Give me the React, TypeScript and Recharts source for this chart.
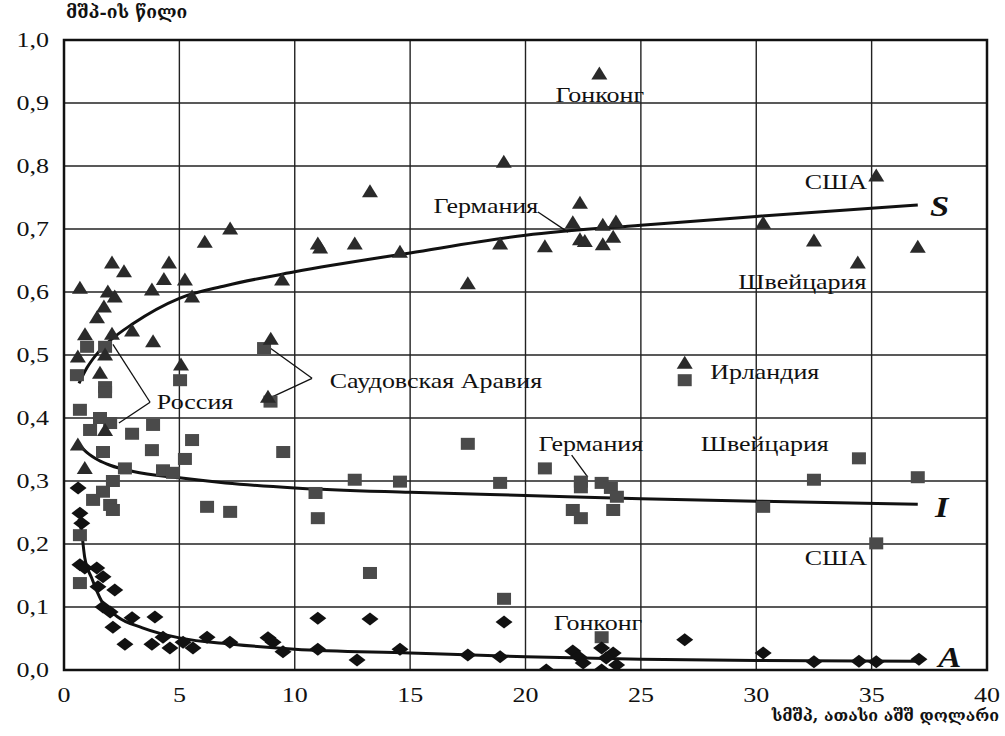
import React from 'react';
import {
  ComposedChart, XAxis, YAxis, CartesianGrid, Scatter, Line, ReferenceArea, ReferenceLine, ReferenceDot,
} from 'recharts';

// S – triangles
const seriesS = [
  [0.69,0.606],[2.08,0.646],[2.6,0.632],[1.9,0.60],[2.2,0.592],[1.73,0.576],[1.43,0.559],[0.91,0.532],
  [2.08,0.533],[2.95,0.538],[3.86,0.521],[3.81,0.603],[4.33,0.62],[4.55,0.646],[5.24,0.619],[5.55,0.592],
  [0.6,0.497],[1.78,0.5],[5.07,0.484],[1.56,0.471],[0.6,0.357],[0.9,0.32],[1.78,0.38],[6.1,0.679],[7.2,0.70],
  [9.45,0.619],[8.96,0.525],[8.84,0.433],[11.0,0.676],[11.1,0.670],[12.6,0.676],[13.26,0.759],[14.56,0.663],
  [17.5,0.613],[19.06,0.806],[18.9,0.676],[20.84,0.672],[22.36,0.741],[22.05,0.71],[22.36,0.683],[22.57,0.68],
  [23.35,0.706],[23.92,0.711],[23.35,0.675],[23.8,0.687],[23.2,0.946],[35.2,0.784],[30.3,0.709],[32.5,0.681],
  [34.4,0.646],[37.0,0.671],[26.9,0.487],
].map(([x, y]) => ({ x, y }));

// I – squares
const seriesI = [
  [1.0,0.513],[1.78,0.513],[0.56,0.468],[1.78,0.449],[1.78,0.441],[5.03,0.46],[0.69,0.413],[1.56,0.40],
  [2.0,0.392],[1.13,0.381],[3.86,0.389],[2.95,0.375],[5.55,0.365],[1.69,0.346],[3.81,0.349],[5.24,0.335],
  [2.64,0.32],[4.29,0.317],[4.72,0.313],[2.12,0.30],[1.69,0.283],[1.26,0.27],[2.0,0.262],[2.12,0.254],
  [6.2,0.259],[7.2,0.251],[0.69,0.214],[0.69,0.138],[9.5,0.346],[8.67,0.511],[8.95,0.426],[17.5,0.359],
  [12.6,0.302],[14.56,0.299],[18.9,0.297],[10.9,0.281],[11.0,0.241],[13.26,0.154],[19.07,0.113],[20.84,0.32],
  [22.4,0.299],[22.4,0.29],[23.3,0.297],[23.7,0.289],[23.96,0.275],[23.8,0.254],[22.05,0.254],[22.4,0.241],
  [23.3,0.052],[26.9,0.46],[34.45,0.336],[32.5,0.302],[37.0,0.306],[30.3,0.259],[35.2,0.201],
].map(([x, y]) => ({ x, y }));

// A – diamonds
const seriesA = [
  [0.61,0.289],[0.69,0.249],[0.77,0.233],[0.69,0.167],[0.9,0.162],[1.42,0.162],[1.69,0.148],[1.47,0.132],
  [2.2,0.127],[1.69,0.10],[2.0,0.092],[2.12,0.068],[2.95,0.083],[3.94,0.084],[2.64,0.041],[3.81,0.041],
  [4.29,0.052],[4.59,0.035],[5.16,0.044],[5.59,0.035],[6.2,0.052],[7.19,0.044],[8.84,0.051],[9.06,0.044],
  [9.49,0.029],[11.0,0.082],[13.26,0.081],[19.07,0.076],[11.0,0.033],[12.7,0.016],[14.56,0.033],[17.5,0.024],
  [18.9,0.021],[20.9,0.0],[22.05,0.030],[22.3,0.021],[22.5,0.011],[23.3,0.035],[23.3,0.0],[23.8,0.027],
  [23.95,0.008],[23.5,0.019],[26.9,0.048],[30.3,0.027],[32.5,0.013],[34.45,0.014],[35.2,0.013],[37.05,0.017],
].map(([x, y]) => ({ x, y }));

// trend curves
const trendS = [
  [0.65,0.455],[1,0.48],[1.5,0.505],[2,0.523],[3,0.55],[5,0.59],[7,0.61],[10,0.632],[15,0.662],
  [20,0.69],[25,0.706],[30,0.72],[37,0.738],
].map(([x, y]) => ({ x, y }));
const trendI = [
  [0.6,0.36],[1,0.345],[1.5,0.333],[2,0.325],[3,0.315],[5,0.305],[7,0.297],[10,0.289],[15,0.282],
  [20,0.277],[25,0.272],[30,0.268],[37,0.263],
].map(([x, y]) => ({ x, y }));
const trendA = [
  [0.65,0.24],[0.77,0.217],[0.9,0.178],[1.2,0.146],[1.65,0.108],[2.3,0.085],[3.4,0.067],[5,0.051],
  [7.3,0.041],[10,0.033],[15,0.027],[20,0.021],[25,0.017],[30,0.015],[37,0.014],
].map(([x, y]) => ({ x, y }));

const xTicks = [0, 5, 10, 15, 20, 25, 30, 35, 40];
const yTicks = [0, 0.1, 0.2, 0.3, 0.4, 0.5, 0.6, 0.7, 0.8, 0.9, 1.0];

const labels = [
  { x: 23.22, y: 0.913, text: 'Гонконг' },
  { x: 33.45, y: 0.775, text: 'США' },
  { x: 18.28, y: 0.737, text: 'Германия' },
  { x: 32.0, y: 0.616, text: 'Швейцария' },
  { x: 16.12, y: 0.459, text: 'Саудовская Аравия' },
  { x: 5.68, y: 0.425, text: 'Россия' },
  { x: 30.37, y: 0.473, text: 'Ирландия' },
  { x: 22.83, y: 0.359, text: 'Германия' },
  { x: 30.37, y: 0.359, text: 'Швейцария' },
  { x: 33.45, y: 0.178, text: 'США' },
  { x: 23.14, y: 0.075, text: 'Гонконг' },
];
const curveNames = [
  { x: 37.95, y: 0.737, text: 'S' },
  { x: 38.04, y: 0.259, text: 'I' },
  { x: 38.39, y: 0.021, text: 'A' },
];
const leaders = [
  [[20.54, 0.727], [21.84, 0.695]],
  [[10.75, 0.463], [8.93, 0.511]],
  [[10.75, 0.463], [8.93, 0.432]],
  [[3.73, 0.425], [2.12, 0.517]],
  [[3.73, 0.425], [2.38, 0.392]],
  [[22.0, 0.341], [22.7, 0.306]],
];

const serif = "'Times New Roman', 'Liberation Serif', 'DejaVu Serif', serif";
const geo = "'DejaVu Serif', 'DejaVu Sans', serif";
const SX = 1.3;

const Tri = (p: any) => (
  <polygon points={`${p.cx},${p.cy - 7.5} ${p.cx - 8},${p.cy + 5.5} ${p.cx + 8},${p.cy + 5.5}`} fill="#2a2a2a" />
);
const Sq = (p: any) => <rect x={p.cx - 7} y={p.cy - 6} width={14} height={12} fill="#4a4a4a" />;
const Dia = (p: any) => (
  <polygon points={`${p.cx},${p.cy - 6.5} ${p.cx + 8.5},${p.cy} ${p.cx},${p.cy + 6.5} ${p.cx - 8.5},${p.cy}`} fill="#111" />
);

const XTick = (p: any) => (
  <text transform={`translate(${p.x},${p.y + 30}) scale(${SX},1)`} x={0} y={0} textAnchor="middle" fontFamily={serif} fontSize={20} fill="#111">
    {p.payload.value}
  </text>
);
const YTick = (p: any) => (
  <text transform={`translate(${p.x - 13},${p.y + 7}) scale(${SX},1)`} x={0} y={0} textAnchor="end" fontFamily={serif} fontSize={20} fill="#111">
    {Number(p.payload.value).toFixed(1).replace('.', ',')}
  </text>
);

export default function App() {
  return (
    <div style={{ position: 'absolute', left: 0, top: 0, width: 1005, height: 736, background: '#fff' }}>
      <ComposedChart width={1005} height={736} margin={{ top: 40, right: 18, bottom: 36, left: 0 }}>
        <CartesianGrid stroke="#222" strokeWidth={1.4} horizontalValues={yTicks} verticalValues={xTicks} />
        <XAxis
          type="number" dataKey="x" domain={[0, 40]} ticks={xTicks} allowDataOverflow height={30}
          tickLine={false} axisLine={false} tickSize={0} tick={<XTick />}
        />
        <YAxis
          type="number" dataKey="y" domain={[0, 1]} ticks={yTicks} allowDataOverflow width={64}
          tickLine={false} axisLine={false} tickSize={0} tick={<YTick />}
        />
        <ReferenceArea x1={0} x2={40} y1={0} y2={1} fill="none" stroke="#111" strokeWidth={2.5} />
        <Scatter data={seriesI} dataKey="y" shape={Sq} isAnimationActive={false} />
        <Scatter data={seriesS} dataKey="y" shape={Tri} isAnimationActive={false} />
        <Scatter data={seriesA} dataKey="y" shape={Dia} isAnimationActive={false} />
        <Line data={trendS} dataKey="y" type="monotone" stroke="#111" strokeWidth={3} dot={false} isAnimationActive={false} />
        <Line data={trendI} dataKey="y" type="monotone" stroke="#111" strokeWidth={3} dot={false} isAnimationActive={false} />
        <Line data={trendA} dataKey="y" type="monotone" stroke="#111" strokeWidth={3} dot={false} isAnimationActive={false} />
        {leaders.map((seg, i) => (
          <ReferenceLine key={'l' + i} segment={[{ x: seg[0][0], y: seg[0][1] }, { x: seg[1][0], y: seg[1][1] }]} stroke="#111" strokeWidth={1.3} />
        ))}
        {labels.map((l, i) => (
          <ReferenceDot key={'t' + i} x={l.x} y={l.y} r={0}
            shape={(p: any) => (
              <text transform={`translate(${p.cx},${p.cy + 7}) scale(${SX},1)`} x={0} y={0} textAnchor="middle" fontFamily={serif} fontSize={20} fill="#111">{l.text}</text>
            )}
          />
        ))}
        {curveNames.map((l, i) => (
          <ReferenceDot key={'c' + i} x={l.x} y={l.y} r={0}
            shape={(p: any) => (
              <text transform={`translate(${p.cx},${p.cy + 10}) scale(1.15,1)`} x={0} y={0} textAnchor="middle" fontFamily={serif} fontSize={30} fontStyle="italic" fontWeight="bold" fill="#111">{l.text}</text>
            )}
          />
        ))}
      </ComposedChart>
      <div style={{ position: 'absolute', left: 66, top: 2, fontFamily: geo, fontWeight: 'bold', fontSize: 17.5, color: '#111', whiteSpace: 'nowrap' }}>
        მშპ-ის წილი
      </div>
      <div style={{ position: 'absolute', right: 6, top: 706, fontFamily: geo, fontWeight: 'bold', fontSize: 16, color: '#111', whiteSpace: 'nowrap' }}>
        სმშპ, ათასი აშშ დოლარი
      </div>
    </div>
  );
}
